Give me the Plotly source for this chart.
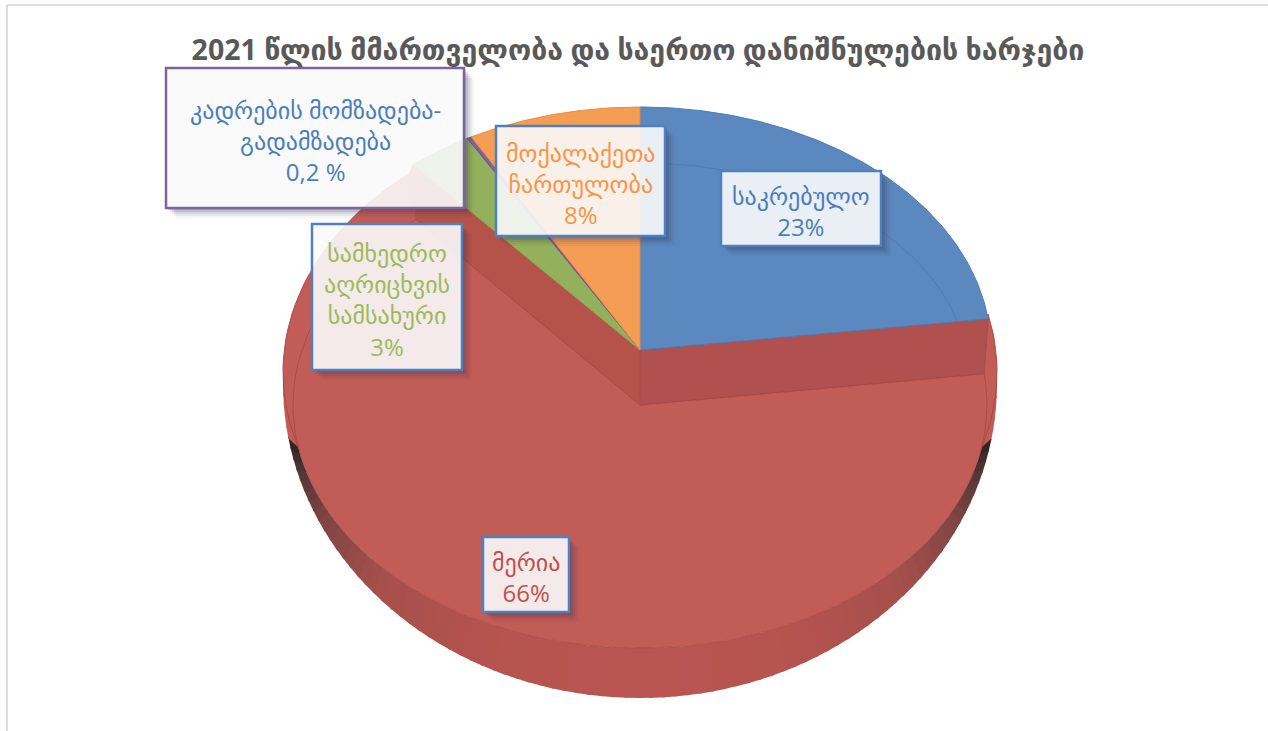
import numpy as np
import plotly.graph_objects as go

title = "2021 წლის მმართველობა და საერთო დანიშნულების ხარჯები"
values = [23, 66, 3, 0.2, 8]
value_labels = ["23%", "66%", "3%", "0,2 %", "8%"]
names = ["საკრებულო", "მერია", "სამხედრო<br>აღრიცხვის<br>სამსახური",
         "კადრების მომზადება-<br>გადამზადება", "მოქალაქეთა<br>ჩართულობა"]
fills = ["#5b88bf", "#c15c57", "#93b15d", "#7e63a0", "#f59c55"]
edges = ["#4a7ebb", "#b04c48", "#86a84e", "#6f5391", "#ee8a3a"]
text_colors = ["#4a7ebb", "#c0504d", "#9bbb59", "#4a7ebb", "#f79646"]
boxes = [(721, 171, 881, 246), (483, 537, 569, 612), (312, 224, 462, 370),
         (166, 68, 464, 208), (496, 126, 665, 236)]
box_lines = ["#4f81bd", "#4f81bd", "#4f81bd", "#7f63a1", "#4f81bd"]
FONT = "Open Sans, DejaVu Sans, sans-serif"

CX, CY = 640, 350
RX, RY = 351, 243
FACE_RX = 347
DROP = 55

cum = np.cumsum([0] + values) / sum(values) * 360
fig = go.Figure()


def pt(theta, cy=CY, rx=RX, ry=RY):
    t = np.radians(theta)
    return CX + rx * np.sin(t), cy - ry * np.cos(t)


def poly(xs, ys, fill, line=None, width=1):
    fig.add_trace(go.Scatter(x=xs, y=ys, mode="lines", fill="toself", fillcolor=fill,
                             line=dict(color=line or fill, width=width if line else 0),
                             hoverinfo="skip", showlegend=False))


def arc(a, b, cy=CY, rx=RX, ry=RY, n=120):
    return pt(np.linspace(a, b, n), cy, rx, ry)


# side wall of the exploded slice
steps = np.linspace(88, 272, 93)
stops_t = [0, 0.3, 0.6, 0.8, 0.93, 1]
stops_r = [186, 182, 166, 128, 85, 52]
stops_g = [85, 84, 80, 70, 55, 38]
stops_b = [82, 80, 76, 68, 55, 38]
for a, b in zip(steps[:-1], steps[1:]):
    t = abs((a + b) / 2 - 180) / 79
    if t > 1:
        col = fills[1]
    else:
        col = "rgb(%d,%d,%d)" % (np.interp(t, stops_t, stops_r), np.interp(t, stops_t, stops_g),
                                 np.interp(t, stops_t, stops_b))
    x1, y1 = arc(a, b + 0.5, CY + DROP, FACE_RX, n=6)
    x2, y2 = arc(b + 0.5, a, 384, 357, 314, n=6)
    poly(np.r_[x1, x2], np.r_[y1, y2], col)

a1, a2 = cum[1], cum[2]
# outer silhouette of the red slice
xb, yb = arc(a1 - 5.5, a2, 372, 357, 260)
x1, y1 = pt(a1)
x2, y2 = pt(a2)
poly(np.r_[CX, x1, xb, x2, CX], np.r_[CY, y1, yb, y2, CY], fills[1], "#a94a47", 1)

# cut walls
x3, y3 = pt(a1, CY + DROP, FACE_RX)
x4, y4 = pt(a2, CY + DROP, FACE_RX)
poly([CX, x2, x4, CX, CX], [CY, y2, y4, CY + DROP, CY], "#b5534a", "#b5534a", 1)
poly([CX, x1, x3, CX, CX], [CY, y1, y3, CY + DROP, CY], "#b05150", "#a94c4a", 1)

# red top face
xt, yt = arc(a1, a2, CY + DROP, FACE_RX)
poly(np.r_[CX, xt, CX], np.r_[CY + DROP, yt, CY + DROP], fills[1], "rgba(165,70,66,0.75)", 1)

# remaining slices
for i in [0, 2, 3, 4]:
    xs, ys = arc(cum[i], cum[i + 1])
    poly(np.r_[CX, xs, CX], np.r_[CY, ys, CY], fills[i], edges[i], 1)

# faint ring on the blue slice
xr, yr = arc(5, 76, 375, 328, 212)
fig.add_trace(go.Scatter(x=xr, y=yr, mode="lines", line=dict(color="rgba(70,115,170,0.55)", width=1),
                         hoverinfo="skip", showlegend=False))

shapes = []
# page frame
shapes.append(dict(type="line", x0=7, y0=5, x1=1268, y1=5, line=dict(color="#dcdcdc", width=2)))
shapes.append(dict(type="line", x0=7, y0=5, x1=7, y1=731, line=dict(color="#dcdcdc", width=2)))

annotations = []
for name, lab, col, (x0, y0, x1_, y1_), bl in zip(names, value_labels, text_colors, boxes, box_lines):
    for off, al in [(10, 0.05), (8, 0.07), (6, 0.10), (4, 0.14), (2, 0.18)]:
        path = (f"M {x1_},{y0 + off} L {x1_ + off},{y0 + off} L {x1_ + off},{y1_ + off} "
                f"L {x0 + off},{y1_ + off} L {x0 + off},{y1_} L {x1_},{y1_} Z")
        shapes.append(dict(type="path", path=path, fillcolor=f"rgba(50,50,90,{al})", line=dict(width=0)))
    shapes.append(dict(type="rect", x0=x0, y0=y0, x1=x1_, y1=y1_,
                       fillcolor="rgba(250,250,251,0.90)", line=dict(color=bl, width=2.5)))
    annotations.append(dict(x=(x0 + x1_) / 2, y=(y0 + y1_) / 2 + 2, xref="x", yref="y",
                            text=f"{name}<br>{lab}", showarrow=False, align="center",
                            font=dict(family=FONT, size=24, color=col)))

fig.update_layout(
    width=1268, height=731, autosize=False,
    margin=dict(l=0, r=0, t=0, b=0),
    paper_bgcolor="white", plot_bgcolor="white",
    xaxis=dict(range=[0, 1268], visible=False, fixedrange=True),
    yaxis=dict(range=[731, 0], visible=False, fixedrange=True),
    title=dict(text=f"<b>{title}</b>", x=638 / 1268, xanchor="center", y=1 - 50 / 731, yanchor="middle",
               font=dict(family=FONT, size=28.5, color="#595959")),
    shapes=shapes, annotations=annotations, showlegend=False,
)
fig.write_html("out.html", config=dict(displayModeBar=False),
               post_script="document.body.style.margin='0';document.body.style.overflow='hidden';")
